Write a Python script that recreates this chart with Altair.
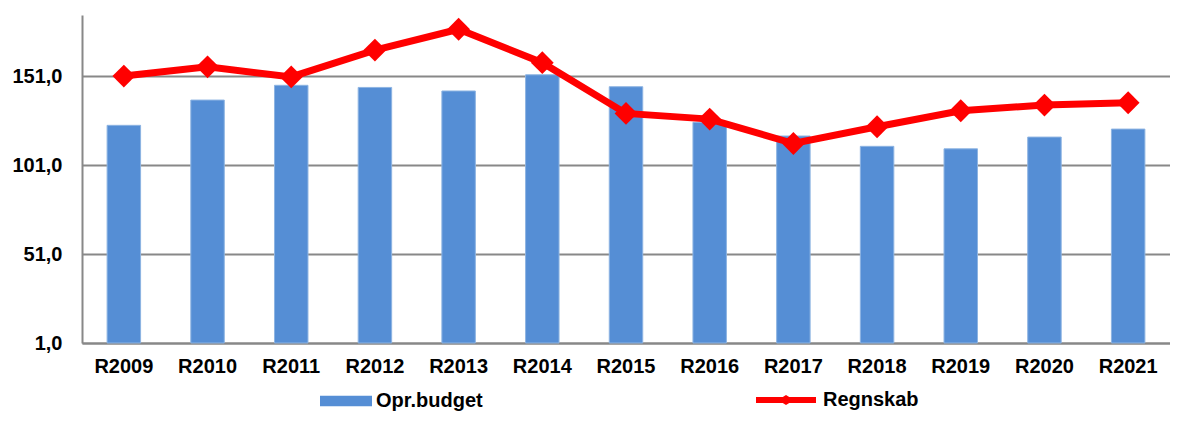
import altair as alt
import pandas as pd

years = ["R2009", "R2010", "R2011", "R2012", "R2013", "R2014", "R2015",
         "R2016", "R2017", "R2018", "R2019", "R2020", "R2021"]
budget = [123.3, 137.5, 145.8, 144.6, 142.6, 151.7, 145.0,
          125.0, 117.3, 111.5, 110.1, 116.7, 121.2]
regnskab = [151.0, 156.2, 150.5, 165.6, 177.3, 158.5, 130.0,
            126.8, 113.1, 122.5, 131.5, 134.7, 136.0]
y_ticks = [1, 51, 101, 151]

df = pd.DataFrame({
    "year": years,
    "budget": budget,
    "regnskab": regnskab,
    "s1": ["Opr.budget"] * len(years),
    "s2": ["Regnskab"] * len(years),
})

FONT = "Liberation Sans"
BLUE = "#558ED5"
RED = "#FF0000"
GRID = "#888888"

x = alt.X("year:N", sort=years, title=None,
          scale=alt.Scale(paddingInner=0.6, paddingOuter=0.3),
          axis=alt.Axis(labelAngle=0, labelFont=FONT, labelFontSize=20,
                        labelFontWeight="bold", labelColor="black",
                        labelPadding=13, ticks=False, domainColor=GRID,
                        domainWidth=2, grid=False))

yscale = alt.Scale(domain=[1, 185.3], nice=False, zero=False)

bars = alt.Chart(df).mark_bar(stroke="#8DB4E2", strokeWidth=1).encode(
    x=x,
    y=alt.Y("budget:Q", scale=yscale, title=None,
            axis=alt.Axis(values=y_ticks, labelExpr="replace(format(datum.value, '.1f'), '.', ',')",
                          labelFont=FONT, labelFontSize=20, labelFontWeight="bold",
                          labelColor="black", labelPadding=20, ticks=False,
                          domainColor=GRID, domainWidth=2, gridColor=GRID,
                          gridWidth=2, gridOpacity=1)),
    y2=alt.datum(1),
    color=alt.Color("s1:N", title=None,
                    scale=alt.Scale(domain=["Opr.budget"], range=[BLUE]),
                    legend=alt.Legend(orient="none", legendX=238, legendY=360,
                                      symbolType="M-1,-0.2L1,-0.2L1,0.2L-1,0.2Z",
                                      symbolSize=2704, symbolStrokeWidth=0,
                                      labelFont=FONT, labelFontSize=20,
                                      labelFontWeight="bold", labelColor="black",
                                      padding=0, labelOffset=4)),
)

line = alt.Chart(df).mark_line(strokeWidth=7).encode(
    x=x,
    y=alt.Y("regnskab:Q", scale=yscale),
    stroke=alt.Stroke("s2:N", title=None,
                      scale=alt.Scale(domain=["Regnskab"], range=[RED]),
                      legend=alt.Legend(orient="none", legendX=671, legendY=352,
                                        symbolType="M-1,0L1,0M-0.08,0L0,-0.05L0.08,0L0,0.05Z",
                                        symbolSize=3600, symbolStrokeWidth=6,
                                        labelFont=FONT, labelFontSize=20,
                                        labelFontWeight="bold", labelColor="black",
                                        padding=0, labelOffset=4)),
)

points = alt.Chart(df).mark_point(shape="diamond", filled=True, size=520,
                                  color=RED, opacity=1).encode(
    x=x,
    y=alt.Y("regnskab:Q", scale=yscale),
)

chart = alt.layer(bars, line, points).properties(
    width=1088, height=328,
    padding={"left": 74, "top": 7, "right": 0, "bottom": 69},
    autosize="none",
    background="white",
).configure_view(stroke=None)

chart.save("out.html", embed_options={"renderer": "svg", "actions": False})
